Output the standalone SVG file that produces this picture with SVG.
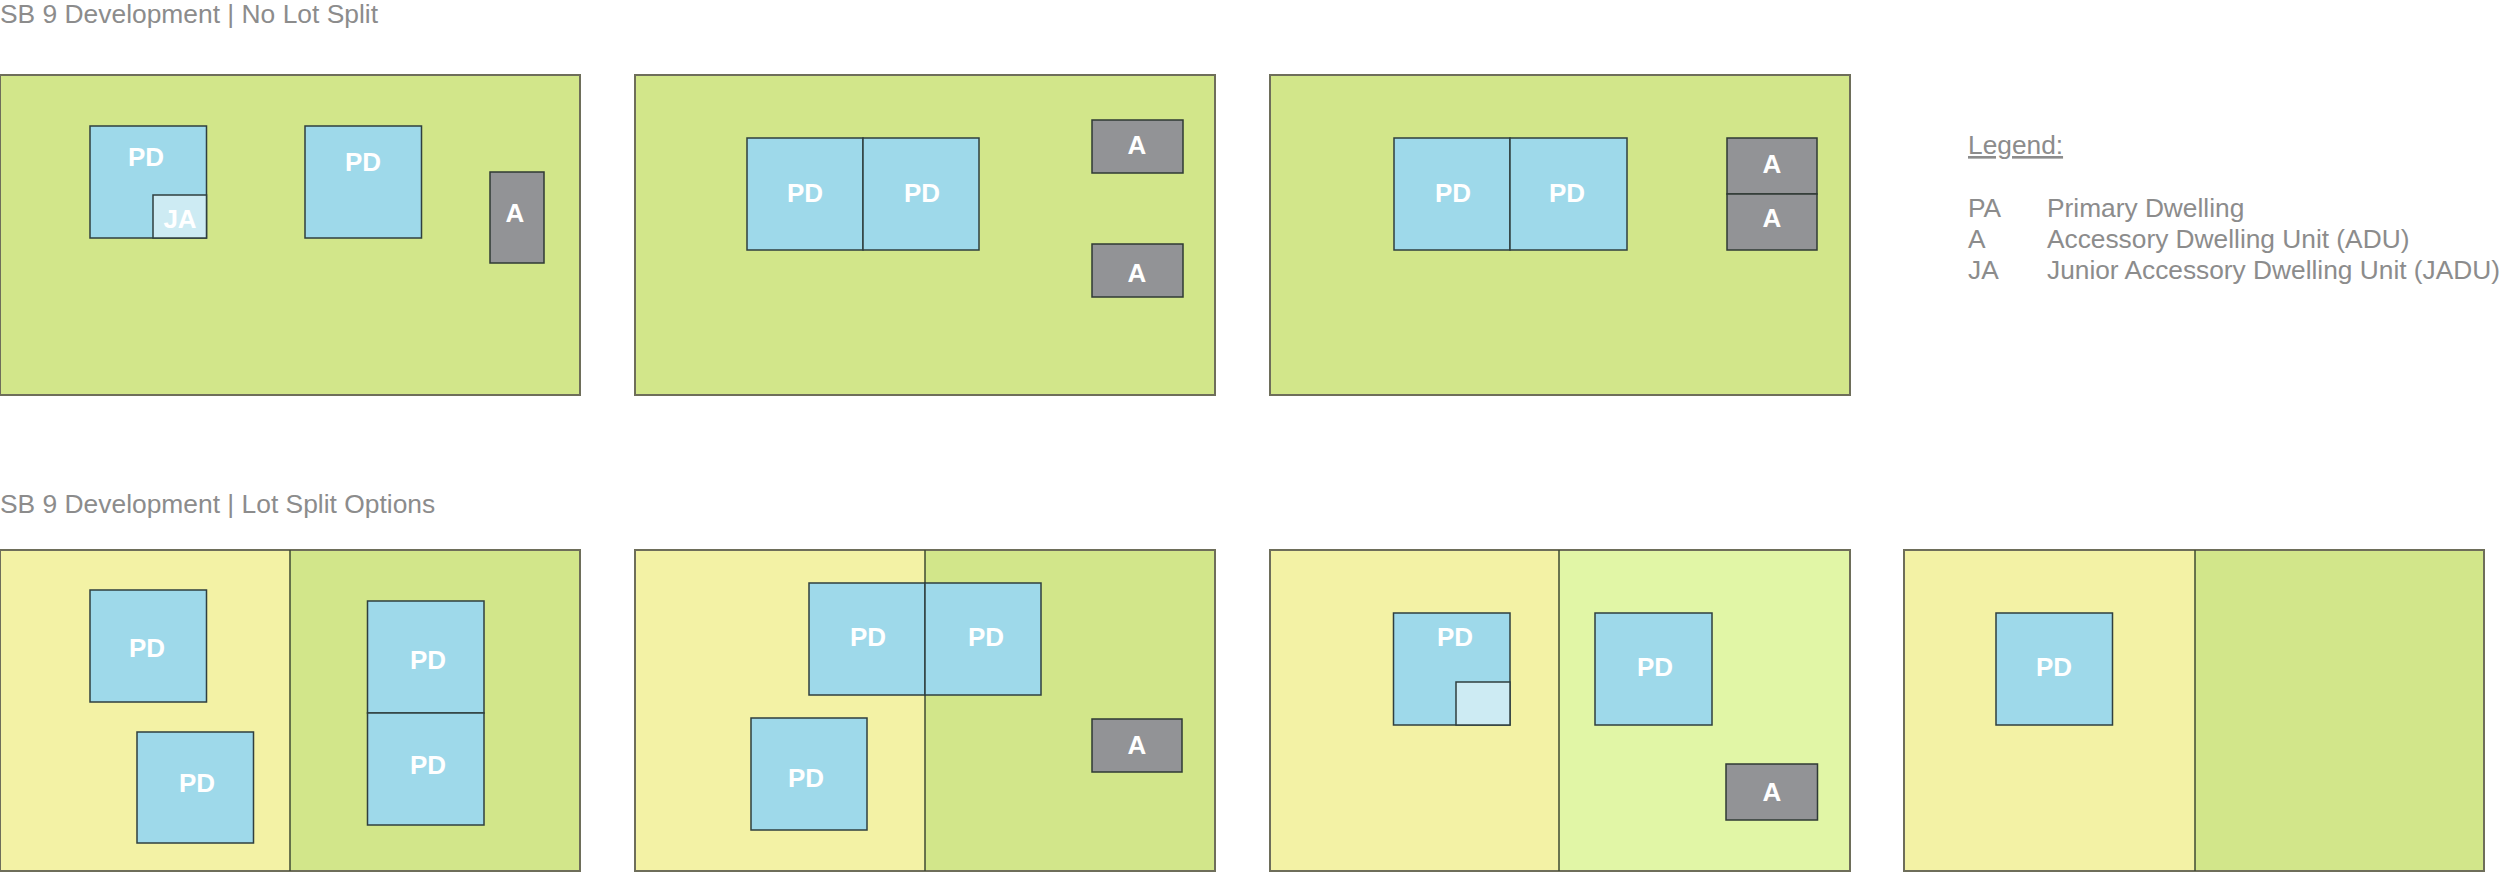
<svg xmlns="http://www.w3.org/2000/svg" width="2500" height="872" viewBox="0 0 2500 872">
<style>
.bg{fill:#ffffff}
.lot{stroke:#6e6e5a;stroke-width:2}
.g{fill:#d2e68a}
.y{fill:#f3f2a5}
.lg{fill:#e1f6a6}
.div{stroke:#3e4a32;stroke-width:1.5}
.pd{fill:#9ed9ea;stroke:#2f3f3f;stroke-width:1.5}
.ja{fill:#cdebf3;stroke:#2f3f3f;stroke-width:1.5}
.a{fill:#929396;stroke:#2f3a35;stroke-width:1.5}
.lbl{font-family:"Liberation Sans",Arial,sans-serif;font-weight:bold;font-size:26px;fill:#ffffff;text-anchor:middle}
.ttl{font-family:"Liberation Sans",Arial,sans-serif;font-size:26.4px;fill:#8c8c8c}
</style>
<rect class="bg" x="0" y="0" width="2500" height="872"/>
<text id="title-top" class="ttl" x="0" y="23">SB 9 Development | No Lot Split</text>
<text id="title-bottom" class="ttl" x="0" y="513">SB 9 Development | Lot Split Options</text>

<g id="lot-1">
<rect class="lot g" x="0" y="75" width="580" height="320"/>
<g id="lot-1-pd1"><rect class="pd" x="90" y="126" width="116.5" height="112"/><text class="lbl" x="146" y="166">PD</text></g>
<g id="lot-1-ja"><rect class="ja" x="153" y="195" width="53.5" height="43"/><text class="lbl" x="180" y="228">JA</text></g>
<g id="lot-1-pd2"><rect class="pd" x="305" y="126" width="116.5" height="112"/><text class="lbl" x="363" y="171">PD</text></g>
<g id="lot-1-a"><rect class="a" x="490" y="172" width="54" height="91"/><text class="lbl" x="515" y="222">A</text></g>
</g>

<g id="lot-2">
<rect class="lot g" x="635" y="75" width="580" height="320"/>
<g id="lot-2-pd1"><rect class="pd" x="747" y="138" width="116" height="112"/><text class="lbl" x="805" y="202">PD</text></g>
<g id="lot-2-pd2"><rect class="pd" x="863" y="138" width="116" height="112"/><text class="lbl" x="922" y="202">PD</text></g>
<g id="lot-2-a1"><rect class="a" x="1092" y="120" width="91" height="53"/><text class="lbl" x="1137" y="154">A</text></g>
<g id="lot-2-a2"><rect class="a" x="1092" y="244" width="91" height="53"/><text class="lbl" x="1137" y="282">A</text></g>
</g>

<g id="lot-3">
<rect class="lot g" x="1270" y="75" width="580" height="320"/>
<g id="lot-3-pd1"><rect class="pd" x="1394" y="138" width="116" height="112"/><text class="lbl" x="1453" y="202">PD</text></g>
<g id="lot-3-pd2"><rect class="pd" x="1510" y="138" width="117" height="112"/><text class="lbl" x="1567" y="202">PD</text></g>
<g id="lot-3-a1"><rect class="a" x="1727" y="138" width="90" height="56"/><text class="lbl" x="1772" y="173">A</text></g>
<g id="lot-3-a2"><rect class="a" x="1727" y="194" width="90" height="56"/><text class="lbl" x="1772" y="227">A</text></g>
</g>

<g id="legend" font-family="'Liberation Sans',Arial,sans-serif" font-size="26.3" fill="#8c8c8c">
<text x="1968" y="154" text-decoration="underline">Legend:</text>
<text x="1968" y="217">PA</text><text x="2047" y="217">Primary Dwelling</text>
<text x="1968" y="248">A</text><text x="2047" y="248">Accessory Dwelling Unit (ADU)</text>
<text x="1968" y="279">JA</text><text x="2047" y="279">Junior Accessory Dwelling Unit (JADU)</text>
</g>

<g id="lot-4">
<rect class="y" x="0" y="550" width="290" height="321"/>
<rect class="g" x="290" y="550" width="290" height="321"/>
<rect class="lot" fill="none" x="0" y="550" width="580" height="321"/>
<line class="div" x1="290" y1="550" x2="290" y2="871"/>
<g id="lot-4-pd1"><rect class="pd" x="90" y="590" width="116.5" height="112"/><text class="lbl" x="147" y="657">PD</text></g>
<g id="lot-4-pd2"><rect class="pd" x="137" y="732" width="116.5" height="111"/><text class="lbl" x="197" y="792">PD</text></g>
<g id="lot-4-pd3"><rect class="pd" x="367.5" y="601" width="116.5" height="112"/><text class="lbl" x="428" y="669">PD</text></g>
<g id="lot-4-pd4"><rect class="pd" x="367.5" y="713" width="116.5" height="112"/><text class="lbl" x="428" y="774">PD</text></g>
</g>

<g id="lot-5">
<rect class="y" x="635" y="550" width="290" height="321"/>
<rect class="g" x="925" y="550" width="290" height="321"/>
<rect class="lot" fill="none" x="635" y="550" width="580" height="321"/>
<line class="div" x1="925" y1="550" x2="925" y2="871"/>
<g id="lot-5-pd1"><rect class="pd" x="809" y="583" width="116" height="112"/><text class="lbl" x="868" y="646">PD</text></g>
<g id="lot-5-pd2"><rect class="pd" x="925" y="583" width="116" height="112"/><text class="lbl" x="986" y="646">PD</text></g>
<g id="lot-5-pd3"><rect class="pd" x="751" y="718" width="116" height="112"/><text class="lbl" x="806" y="787">PD</text></g>
<g id="lot-5-a"><rect class="a" x="1092" y="719" width="90" height="53"/><text class="lbl" x="1137" y="754">A</text></g>
</g>

<g id="lot-6">
<rect class="y" x="1270" y="550" width="289" height="321"/>
<rect class="lg" x="1559" y="550" width="291" height="321"/>
<rect class="lot" fill="none" x="1270" y="550" width="580" height="321"/>
<line class="div" x1="1559" y1="550" x2="1559" y2="871"/>
<g id="lot-6-pd1"><rect class="pd" x="1393.5" y="613" width="116.5" height="112"/><text class="lbl" x="1455" y="646">PD</text></g>
<g id="lot-6-ja"><rect class="ja" x="1456" y="682" width="54" height="43"/></g>
<g id="lot-6-pd2"><rect class="pd" x="1595" y="613" width="117" height="112"/><text class="lbl" x="1655" y="676">PD</text></g>
<g id="lot-6-a"><rect class="a" x="1726" y="764" width="91.5" height="56"/><text class="lbl" x="1772" y="801">A</text></g>
</g>

<g id="lot-7">
<rect class="y" x="1904" y="550" width="291" height="321"/>
<rect class="g" x="2195" y="550" width="289" height="321"/>
<rect class="lot" fill="none" x="1904" y="550" width="580" height="321"/>
<line class="div" x1="2195" y1="550" x2="2195" y2="871"/>
<g id="lot-7-pd"><rect class="pd" x="1996" y="613" width="116.5" height="112"/><text class="lbl" x="2054" y="676">PD</text></g>
</g>
</svg>
